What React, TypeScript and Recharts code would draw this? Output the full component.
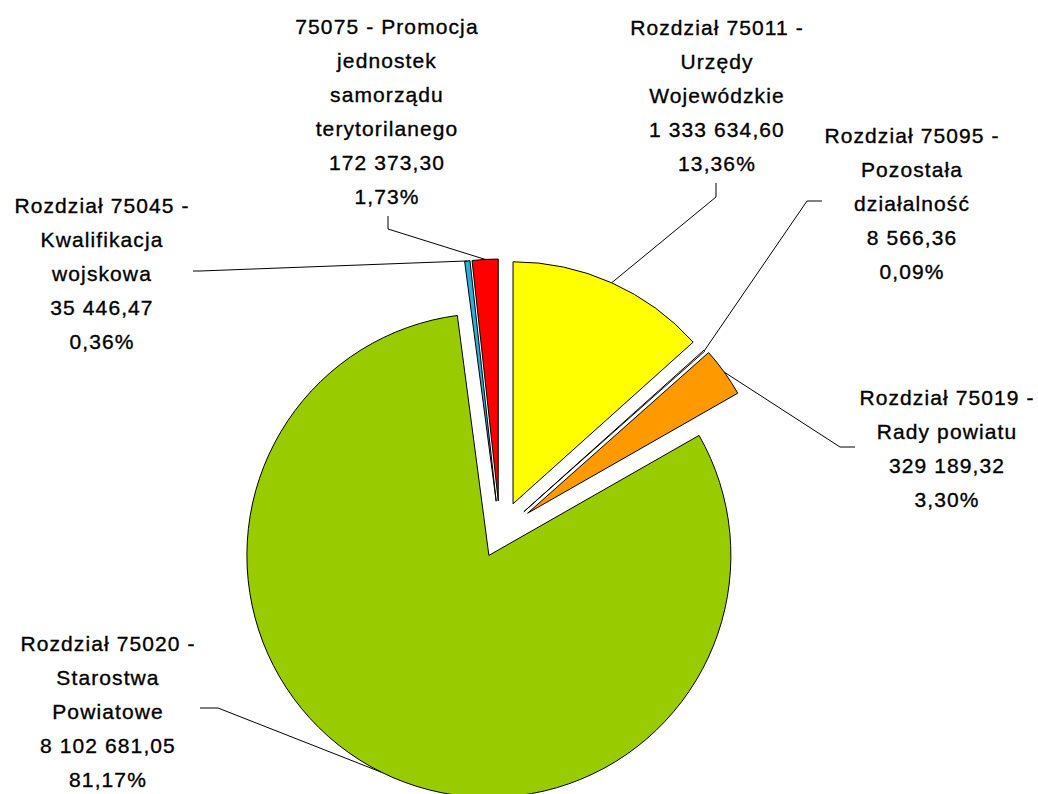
import React from 'react';
import { PieChart, Pie, Cell, Sector } from 'recharts';

const names = [
  'Rozdział 75011 - Urzędy Wojewódzkie',
  'Rozdział 75095 - Pozostała działalność',
  'Rozdział 75019 - Rady powiatu',
  'Rozdział 75020 - Starostwa Powiatowe',
  'Rozdział 75045 - Kwalifikacja wojskowa',
  '75075 - Promocja jednostek samorządu terytorilanego',
];
const amounts = [1333634.6, 8566.36, 329189.32, 8102681.05, 35446.47, 172373.3];
const nameLines = [
  ['Rozdział 75011 -', 'Urzędy', 'Wojewódzkie'],
  ['Rozdział 75095 -', 'Pozostała', 'działalność'],
  ['Rozdział 75019 -', 'Rady powiatu'],
  ['Rozdział 75020 -', 'Starostwa', 'Powiatowe'],
  ['Rozdział 75045 -', 'Kwalifikacja', 'wojskowa'],
  ['75075 - Promocja', 'jednostek', 'samorządu', 'terytorilanego'],
];

const colors = ['#FFFF00', '#FFFFFF', '#FF9900', '#99CC00', '#2AAEDC', '#FF0000'];
// how far each slice is pulled out of the pie
const explode = [32, 32, 34, 25, 32, 32];
// label block: centre x, first line y, elbow point and end of the leader line
const labelLayout = [
  { x: 717, y: 27, elbow: [716, 197], end: [716, 183] },
  { x: 912, y: 135, elbow: [807, 201], end: [822, 201] },
  { x: 947, y: 397, elbow: [840, 447], end: [855, 447] },
  { x: 108, y: 643, elbow: [218, 708], end: [200, 708] },
  { x: 102, y: 205, elbow: [200, 271], end: [193, 271] },
  { x: 387, y: 26, elbow: [388, 229], end: [388, 216] },
];

const total = amounts.reduce((s, v) => s + v, 0);
const data = names.map((name, i) => ({ name, value: amounts[i], idx: i }));

const RAD = Math.PI / 180;
const fmtNum = (v: number) => {
  const [int, dec] = v.toFixed(2).split('.');
  return int.replace(/\B(?=(\d{3})+(?!\d))/g, ' ') + ',' + dec;
};
const fmtPct = (v: number) => ((v / total) * 100).toFixed(2).replace('.', ',') + '%';

const ExplodedSector = (props: any) => {
  const i = props.payload?.idx ?? props.idx ?? 0;
  const d = explode[i];
  const ox = d * Math.cos(-props.midAngle * RAD);
  const oy = d * Math.sin(-props.midAngle * RAD);
  return <Sector {...props} cx={props.cx + ox} cy={props.cy + oy} />;
};

const renderLabel = (props: any) => {
  const i = props.payload?.idx ?? props.idx ?? props.index;
  const d = explode[i];
  const a = -props.midAngle * RAD;
  const r = props.outerRadius + d;
  const sx = props.cx + r * Math.cos(a);
  const sy = props.cy + r * Math.sin(a);
  const lay = labelLayout[i];
  const lines = [...nameLines[i], fmtNum(amounts[i]), fmtPct(amounts[i])];
  return (
    <g key={'lbl' + i}>
      <polyline
        points={`${sx},${sy} ${lay.elbow[0]},${lay.elbow[1]} ${lay.end[0]},${lay.end[1]}`}
        fill="none"
        stroke="#000"
        strokeWidth={1}
      />
      <text
        x={lay.x}
        y={lay.y}
        textAnchor="middle"
        fontFamily="Liberation Sans, Arial, sans-serif"
        fontSize={21}
        letterSpacing={1.1}
        fill="#000"
        stroke="#000"
        strokeWidth={0.35}
      >
        {lines.map((t, k) => (
          <tspan key={k} x={lay.x} y={lay.y + k * 34} dominantBaseline="central">
            {t}
          </tspan>
        ))}
      </text>
    </g>
  );
};

export default function App() {
  return (
    <div style={{ position: 'absolute', left: 0, top: 0, width: 1038, height: 794, background: '#fff' }}>
      <PieChart width={1038} height={794} margin={{ top: 0, right: 0, bottom: 0, left: 0 }}>
        <Pie
          data={data}
          dataKey="value"
          nameKey="name"
          cx={500}
          cy={533}
          outerRadius={242}
          startAngle={90}
          endAngle={-270}
          stroke="#000"
          strokeWidth={1}
          shape={ExplodedSector}
          activeShape={ExplodedSector}
          inactiveShape={ExplodedSector}
          label={renderLabel}
          labelLine={false}
          isAnimationActive={false}
        >
          {data.map((_, i) => (
            <Cell key={i} fill={colors[i]} />
          ))}
        </Pie>
      </PieChart>
    </div>
  );
}
